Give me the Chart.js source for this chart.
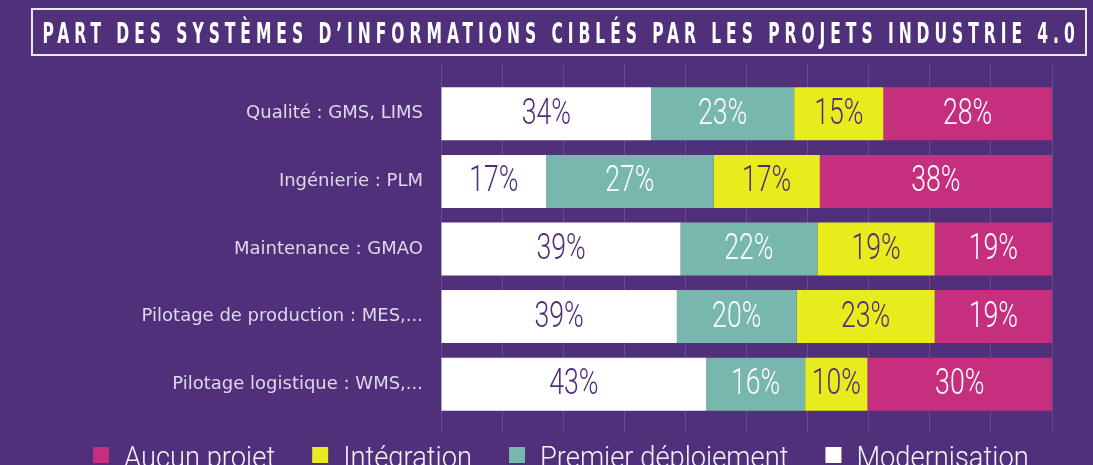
<!DOCTYPE html>
<html>
<head>
<meta charset="utf-8">
<script src="https://cdn.jsdelivr.net/npm/chart.js@4.4.1/dist/chart.umd.min.js"></script>
<style>
    html, body { margin: 0; padding: 0; background: #50307a; overflow: hidden; width: 1093px; height: 465px; }
    #wrap { position: relative; width: 1093px; height: 480px; }
    #chart { position: absolute; left: 0; top: 0; }
    #title {
        position: absolute; left: 31px; top: 8px; width: 1052px; height: 44px;
        border: 2px solid #ece8f2; display: flex; align-items: center; justify-content: center;
        overflow: hidden;
    }
    #titleText {
        font: bold 28px "DejaVu Sans Condensed", sans-serif;
        letter-spacing: 8px; color: #ffffff; white-space: nowrap; display: inline-block;
        transform-origin: center center; margin-top: 2px;
    }
</style>
</head>
<body>
<div id="wrap">
    <canvas id="chart" width="1093" height="480"></canvas>
    <div id="title"><span id="titleText">PART DES SYSTÈMES D’INFORMATIONS CIBLÉS PAR LES PROJETS INDUSTRIE 4.0</span></div>
</div>
<script>
// Systèmes d'information (rows, top to bottom)
const categories = [
    'Qualité : GMS, LIMS',
    'Ingénierie : PLM',
    'Maintenance : GMAO',
    'Pilotage de production : MES,...',
    'Pilotage logistique : WMS,...'
];

// Shares in %, stacked left to right
const modernisation = [34.4, 17.2, 39.2, 38.6, 43.4];
const premierDeploiement = [23.4, 27.4, 22.4, 19.6, 16.2];
const integration = [14.6, 17.4, 19.2, 22.6, 10.2];
const aucunProjet = [27.6, 38.0, 19.2, 19.2, 30.2];

const xTicks = [0, 10, 20, 30, 40, 50, 60, 70, 80, 90, 100];

const colors = {
    bg: '#50307a',
    white: '#ffffff',
    teal: '#77b7ae',
    yellow: '#e7ec1c',
    magenta: '#c52f7e',
    darkText: '#4f2d7a',
    lightText: '#ffffff',
    axisText: '#dfd8e9',
    grid: 'rgba(255,255,255,0.13)'
};

// value labels inside each segment, condensed light font
const barLabels = {
    id: 'barLabels',
    afterDatasetsDraw(chart) {
        const ctx = chart.ctx;
        chart.data.datasets.forEach((ds, i) => {
            const meta = chart.getDatasetMeta(i);
            meta.data.forEach((bar, j) => {
                const cx = (bar.x + bar.base) / 2;
                ctx.save();
                ctx.translate(cx, bar.y + 1);
                ctx.scale(0.74, 1);
                ctx.font = '300 36px Roboto';
                ctx.fillStyle = ds.labelColor;
                ctx.textAlign = 'center';
                ctx.textBaseline = 'middle';
                ctx.fillText(Math.round(ds.data[j]) + '%', 0, 0);
                ctx.restore();
            });
        });
    }
};

// legend along the bottom, reversed order, cut by the page edge like the original
const bottomLegend = {
    id: 'bottomLegend',
    afterDraw(chart) {
        const ctx = chart.ctx;
        const items = chart.data.datasets.slice().reverse();
        const sx = 0.91;
        let x = 93;
        ctx.save();
        ctx.font = '300 30px Roboto';
        ctx.textBaseline = 'alphabetic';
        items.forEach((ds) => {
            ctx.fillStyle = ds.backgroundColor;
            ctx.fillRect(x, 447, 16, 16);
            x += 31;
            const w = ctx.measureText(ds.label).width * sx;
            ctx.save();
            ctx.translate(x, 467);
            ctx.scale(sx, 1);
            ctx.fillStyle = '#f4f1f8';
            ctx.fillText(ds.label, 0, 0);
            ctx.restore();
            x += w + 37;
        });
        ctx.restore();
    }
};

function makeDataset(label, data, color, labelColor) {
    return {
        label: label,
        data: data,
        backgroundColor: color,
        borderWidth: 0,
        labelColor: labelColor,
        categoryPercentage: 1,
        barPercentage: 0.784
    };
}

function getChartConfig() {
    return {
        type: 'bar',
        data: {
            labels: categories,
            datasets: [
                makeDataset('Modernisation', modernisation, colors.white, colors.darkText),
                makeDataset('Premier déploiement', premierDeploiement, colors.teal, colors.lightText),
                makeDataset('Intégration', integration, colors.yellow, colors.darkText),
                makeDataset('Aucun projet', aucunProjet, colors.magenta, colors.lightText)
            ]
        },
        options: {
            indexAxis: 'y',
            responsive: false,
            animation: false,
            layout: { padding: { top: 63, right: 41, bottom: 48, left: 0 } },
            plugins: {
                legend: { display: false },
                tooltip: { enabled: false }
            },
            scales: {
                x: {
                    stacked: true,
                    min: 0,
                    max: 100,
                    afterBuildTicks: (scale) => { scale.ticks = xTicks.map(v => ({ value: v })); },
                    ticks: { display: false },
                    grid: { color: colors.grid, lineWidth: 1, drawTicks: true, tickLength: 14 },
                    border: { display: false }
                },
                x2: {
                    axis: 'x',
                    type: 'linear',
                    position: 'top',
                    min: 0,
                    max: 100,
                    afterBuildTicks: (scale) => { scale.ticks = xTicks.map(v => ({ value: v })); },
                    ticks: { display: false },
                    grid: { color: colors.grid, lineWidth: 1, drawOnChartArea: false, drawTicks: true, tickLength: 17 },
                    border: { display: false }
                },
                y: {
                    stacked: true,
                    afterFit: (scale) => { scale.width = 441; },
                    grid: { display: false, drawTicks: false },
                    border: { display: false },
                    ticks: {
                        color: colors.axisText,
                        padding: 18,
                        font: { family: 'DejaVu Sans', size: 18 }
                    }
                }
            }
        },
        plugins: [barLabels, bottomLegend]
    };
}

const ctx = document.getElementById('chart').getContext('2d');
new Chart(ctx, getChartConfig());

// fit title to the width of the box (letter-spacing leaves a trailing gap)
const titleText = document.getElementById('titleText');
const tw = titleText.offsetWidth - 8;
const sc = 1032 / tw;
titleText.style.transform = 'translateX(' + (4 * sc) + 'px) scaleX(' + sc + ')';
</script>
</body>
</html>
